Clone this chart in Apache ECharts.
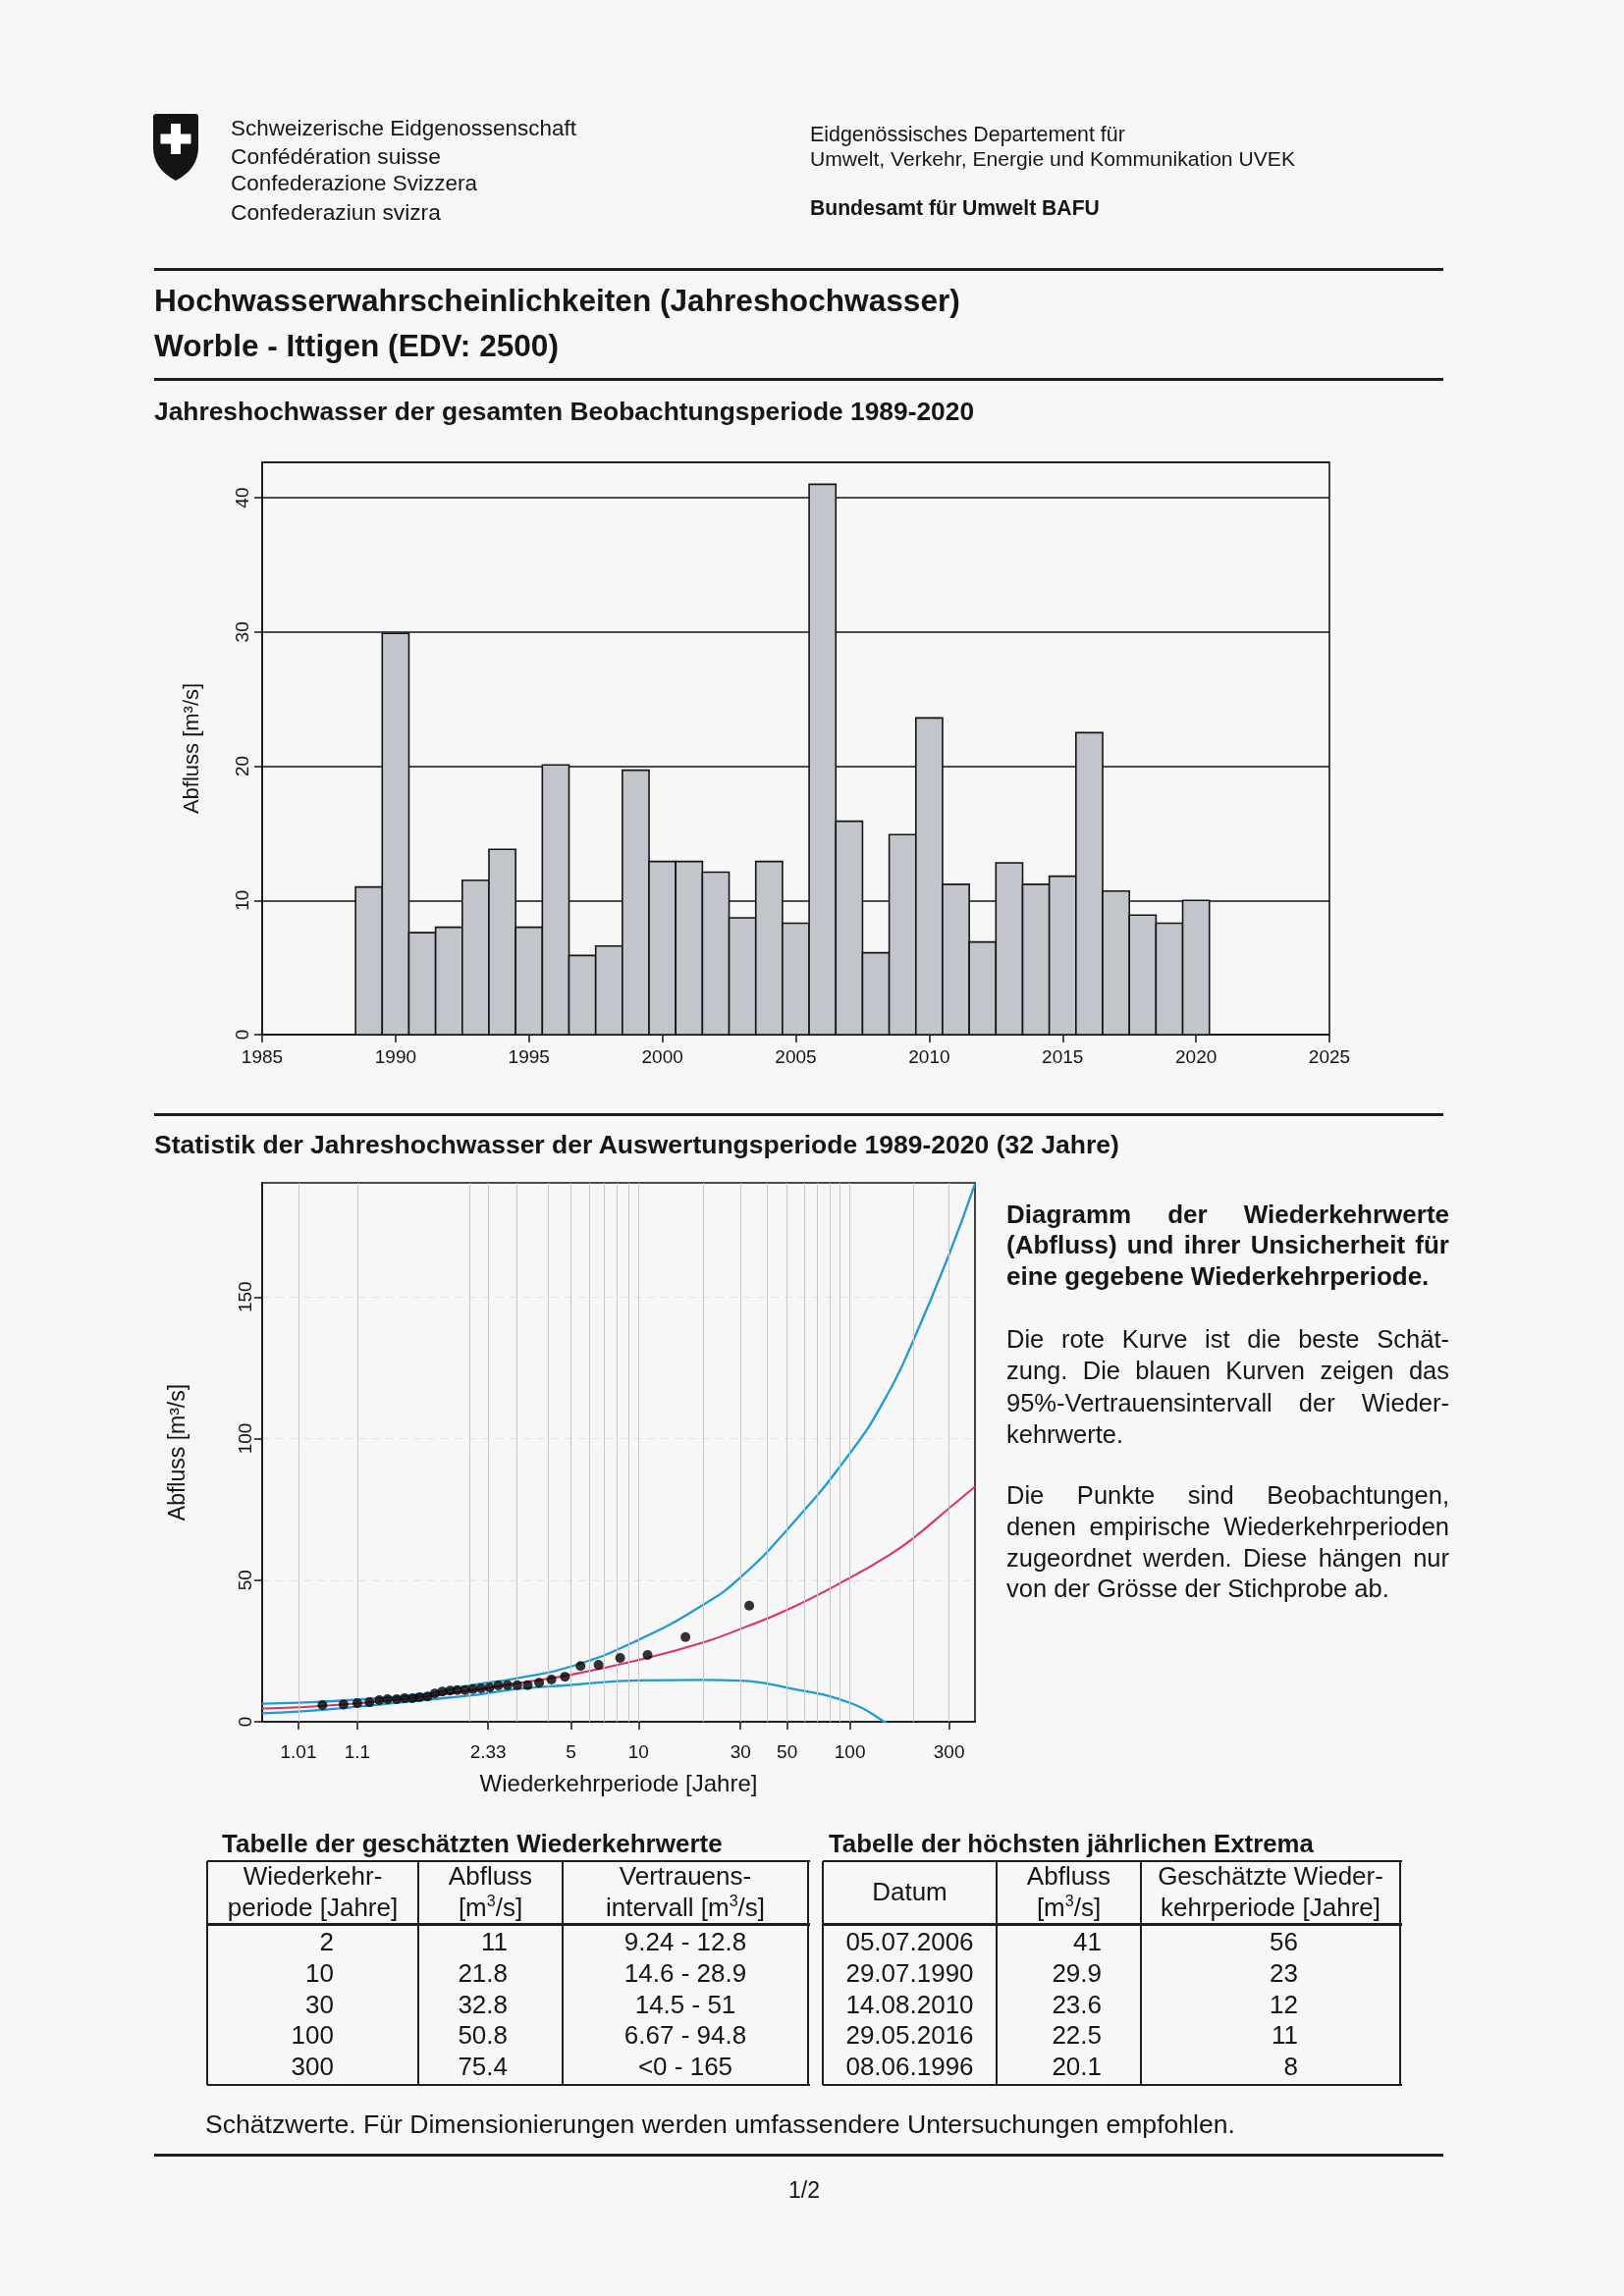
<!DOCTYPE html>
<html lang="de"><head><meta charset="utf-8"><title>Hochwasserwahrscheinlichkeiten Worble - Ittigen</title>
<script src="https://cdn.jsdelivr.net/npm/echarts@6.0.0/dist/echarts.min.js"></script>
<style>
html,body{margin:0;padding:0;background:#f7f7f7;}
#page{position:relative;width:1654px;height:2339px;overflow:hidden;font-family:'Liberation Sans',Arial,Helvetica,sans-serif;color:#161616;}
#chart{position:absolute;left:0;top:0;width:1654px;height:2339px;}
.t{position:absolute;white-space:nowrap;line-height:1.15;}
.rule{position:absolute;left:157px;width:1313px;height:3px;background:#1e1e1e;}
.pl{position:absolute;left:1025px;width:451px;height:32px;line-height:32px;white-space:normal;overflow:visible;}
.j{text-align:justify;text-align-last:justify;}
.cell{position:absolute;white-space:nowrap;font-size:26px;line-height:30px;height:30px;}
.ln{position:absolute;background:#1e1e1e;}
</style></head><body><div id="page"><div id="chart"></div>
<svg style="position:absolute;left:156px;top:116px" width="46" height="68" viewBox="0 0 46 68">
<path d="M3,0 H43 Q46,0 46,3 V34 Q46,56 23,68 Q0,56 0,34 V3 Q0,0 3,0 Z" fill="#141414"/>
<rect x="18" y="10" width="10" height="31" fill="#fff"/>
<rect x="7.5" y="20.5" width="31" height="10" fill="#fff"/>
</svg>
<div class="rule" style="top:273px"></div>
<div class="rule" style="top:385px"></div>
<div class="rule" style="top:1134px;height:2.5px"></div>
<div class="rule" style="top:2194px"></div>
</div>
<script>
// ---------- DATA ----------
const years = [1989,1990,1991,1992,1993,1994,1995,1996,1997,1998,1999,2000,2001,2002,2003,2004,2005,2006,2007,2008,2009,2010,2011,2012,2013,2014,2015,2016,2017,2018,2019,2020];
const annualPeak = [11.0,29.9,7.6,8.0,11.5,13.8,8.0,20.1,5.9,6.6,19.7,12.9,12.9,12.1,8.7,12.9,8.3,41.0,15.9,6.1,14.9,23.6,11.2,6.9,12.8,11.2,11.8,22.5,10.7,8.9,8.3,10.0];

// empirical return periods of the observed points [years] and their discharge [m3/s]
const obsReturnPeriod = [33,16.5,11,8.25,6.6,5.5,4.71,4.13,3.67,3.3,3.0,2.75,2.54,2.36,2.2,2.06,1.94,1.83,1.74,1.65,1.57,1.5,1.43,1.375,1.32,1.27,1.22,1.18,1.14,1.1,1.065,1.03];
const obsFlow = [41.0,29.9,23.6,22.5,20.1,19.7,15.9,14.9,13.8,12.9,12.9,12.9,12.8,12.1,11.8,11.5,11.2,11.2,11.0,10.7,10.0,8.9,8.7,8.3,8.3,8.0,8.0,7.6,6.9,6.6,6.1,5.9];

// fitted curve (red) and 95% confidence band (blue)
const curveReturnPeriod = [1.001,1.01,1.1,1.5,2,2.33,3,5,10,20,30,50,100,150,200,300,400];
const bestEstimate = [4.7,5.1,6.5,8.9,11.0,11.9,13.6,16.6,21.8,28.0,32.8,39.5,50.8,58.3,64.6,75.4,83.0];
const upperBound   = [6.4,6.7,7.8,9.9,12.8,13.8,15.4,19.5,28.9,41.3,51.0,67.8,94.8,115,134,165,190];
const lowerBound   = [3.0,3.6,5.3,7.8,9.24,10.1,11.6,13.0,14.6,14.8,14.5,12.0,6.67,-0.5,-6.5,-18,-28];

const rpTickValues = [1.01,1.1,2.33,5,10,30,50,100,300];
const rpTickLabels = ['1.01','1.1','2.33','5','10','30','50','100','300'];
const rpGridValues = [1.01,1.1,2,2.33,3,4,5,6,7,8,9,10,20,30,40,50,60,70,80,90,100,200,300];

// tables
const estPeriod = ['2','10','30','100','300'];
const estFlow = ['11','21.8','32.8','50.8','75.4'];
const estInterval = ['9.24 - 12.8','14.6 - 28.9','14.5 - 51','6.67 - 94.8','<0 - 165'];
const extDate = ['05.07.2006','29.07.1990','14.08.2010','29.05.2016','08.06.1996'];
const extFlow = ['41','29.9','23.6','22.5','20.1'];
const extPeriod = ['56','23','12','11','8'];

// ---------- TEXT ----------
const page = document.getElementById('page');
function addText(s){
  const d = document.createElement('div');
  d.className = 't';
  d.textContent = s.t;
  d.style.fontSize = s.fs + 'px';
  if (s.b) d.style.fontWeight = 'bold';
  page.appendChild(d);
  if (s.w) { const w = d.getBoundingClientRect().width; d.style.fontSize = (s.fs * s.w / w).toFixed(2) + 'px'; }
  const r = d.getBoundingClientRect();
  d.style.top = (s.cy - r.height/2).toFixed(1) + 'px';
  d.style.left = (s.cx !== undefined ? s.cx - r.width/2 : s.x) + 'px';
}
[
 {t:'Schweizerische Eidgenossenschaft', x:235, cy:131, w:352, fs:22},
 {t:'Confédération suisse', x:235, cy:159, w:214, fs:22},
 {t:'Confederazione Svizzera', x:235, cy:187, w:251, fs:22},
 {t:'Confederaziun svizra', x:235, cy:216, w:214, fs:22},
 {t:'Eidgenössisches Departement für', x:825, cy:137, w:321, fs:21},
 {t:'Umwelt, Verkehr, Energie und Kommunikation UVEK', x:825, cy:162, w:494, fs:21},
 {t:'Bundesamt für Umwelt BAFU', x:825, cy:212, w:295, fs:21, b:1},
 {t:'Hochwasserwahrscheinlichkeiten (Jahreshochwasser)', x:157, cy:306, w:821, fs:31, b:1},
 {t:'Worble - Ittigen (EDV: 2500)', x:157, cy:352, w:412, fs:31, b:1},
 {t:'Jahreshochwasser der gesamten Beobachtungsperiode 1989-2020', x:157, cy:419, w:835, fs:25, b:1},
 {t:'Statistik der Jahreshochwasser der Auswertungsperiode 1989-2020 (32 Jahre)', x:157, cy:1166, w:983, fs:25, b:1},
 {t:'Tabelle der geschätzten Wiederkehrwerte', x:226, cy:1879, w:510, fs:25, b:1},
 {t:'Tabelle der höchsten jährlichen Extrema', x:844, cy:1879, w:494, fs:25, b:1},
 {t:'Schätzwerte. Für Dimensionierungen werden umfassendere Untersuchungen empfohlen.', x:209, cy:2164, w:1049, fs:24},
 {t:'1/2', cx:819, cy:2231, fs:23}
].forEach(addText);

// right-hand explanatory paragraph
[
 ['Diagramm der Wiederkehrwerte',1236.5,1,1],
 ['(Abfluss) und ihrer Unsicherheit für',1268.3,1,1],
 ['eine gegebene Wiederkehrperiode.',1300.1,1,0],
 ['Die rote Kurve ist die beste Schät-',1363.8,0,1],
 ['zung. Die blauen Kurven zeigen das',1395.6,0,1],
 ['95%-Vertrauensintervall der Wieder-',1428.5,0,1],
 ['kehrwerte.',1461,0,0],
 ['Die Punkte sind Beobachtungen,',1523,0,1],
 ['denen empirische Wiederkehrperioden',1554.8,0,1],
 ['zugeordnet werden. Diese hängen nur',1586.6,0,1],
 ['von der Grösse der Stichprobe ab.',1618.4,0,0]
].forEach(([s,cy,b,j])=>{
  const d = document.createElement('div');
  d.className = 'pl' + (j ? ' j' : '');
  d.textContent = s;
  d.style.top = (cy - 16) + 'px';
  d.style.fontSize = b ? '26px' : '25.5px';
  if (b) d.style.fontWeight = 'bold';
  page.appendChild(d);
});

// ---------- TABLES ----------
function line(x,y,w,h){const d=document.createElement('div');d.className='ln';d.style.left=x+'px';d.style.top=y+'px';d.style.width=w+'px';d.style.height=h+'px';page.appendChild(d);}
function cell(html,x0,x1,cy,align,pad){
  const d=document.createElement('div');d.className='cell';d.innerHTML=html;
  d.style.top=(cy-15)+'px';
  if(align==='center'){d.style.left=x0+'px';d.style.width=(x1-x0)+'px';d.style.textAlign='center';}
  else{d.style.right=(1654-x1+pad)+'px';d.style.textAlign='right';}
  page.appendChild(d);
}
const tTop=1896, tHead=1960, tBot=2124;
const rowCy=[1978,2010,2041.5,2073,2104.5];
function table(cols, headers, columns, aligns){
  const x0=cols[0], x3=cols[cols.length-1];
  line(x0,tTop-1,x3-x0+2,2);
  line(x0,tHead-1.5,x3-x0+2,3);
  line(x0,tBot-1,x3-x0+2,2);
  cols.forEach(x=>line(x-0.75,tTop,1.8,tBot-tTop));
  headers.forEach((h,i)=>{
    if(h.length===1) cell(h[0],cols[i],cols[i+1],1927,'center');
    else {cell(h[0],cols[i],cols[i+1],1911,'center');cell(h[1],cols[i],cols[i+1],1943,'center');}
  });
  columns.forEach((arr,i)=>{
    arr.forEach((v,r)=>{
      const a=aligns[i];
      if(a==='center') cell(v,cols[i],cols[i+1],rowCy[r],'center');
      else cell(v,cols[i],cols[i+1],rowCy[r],'right',a);
    });
  });
}
const sup3 = '<sup style="font-size:16px;line-height:0">3</sup>';
table([211,426,573,823],
  [['Wiederkehr-','periode [Jahre]'],['Abfluss','[m'+sup3+'/s]'],['Vertrauens-','intervall [m'+sup3+'/s]']],
  [estPeriod,estFlow,estInterval],[86,56,'center']);
table([838,1015,1162,1426],
  [['Datum'],['Abfluss','[m'+sup3+'/s]'],['Geschätzte Wieder-','kehrperiode [Jahre]']],
  [extDate,extFlow,extPeriod],['center',40,104]);

// ---------- CHARTS ----------
const gumbel = T => -Math.log(-Math.log(1 - 1/T));
const FONT = 'Liberation Sans';
const BLUE = '#1f9ad3', RED = '#d8336d', INK = '#141414';
const rpTickU = rpTickValues.map(gumbel);
const toXY = (ts, qs) => ts.map((t,i)=>[gumbel(t), qs[i]]);

const chart = echarts.init(document.getElementById('chart'), null, {renderer:'canvas'});
const axLine = {show:true, onZero:false, lineStyle:{color:INK, width:1.6}};
const axTick = {show:true, length:8, lineStyle:{color:INK, width:1.5}};
chart.setOption({
  animation:false,
  backgroundColor:'transparent',
  grid:[
    {left:267, top:471, width:1087, height:583, show:true, borderColor:INK, borderWidth:1.6, backgroundColor:'transparent'},
    {left:267, top:1205, width:726, height:549, show:true, borderColor:INK, borderWidth:1.6, backgroundColor:'transparent'}
  ],
  xAxis:[
    {gridIndex:0, type:'value', min:1985, max:2025, interval:5,
      axisLine:axLine, axisTick:axTick,
      axisLabel:{color:INK, fontFamily:FONT, fontSize:19, margin:14, formatter:v=>String(v)},
      splitLine:{show:false}},
    {gridIndex:1, type:'value', min:gumbel(1.001), max:gumbel(400),
      axisLine:axLine,
      axisTick:{show:true, length:8, customValues:rpTickU, lineStyle:{color:INK, width:1.5}},
      axisLabel:{color:INK, fontFamily:FONT, fontSize:19, margin:22, customValues:rpTickU,
        formatter:v=>{let bi=0,bd=1e9;rpTickU.forEach((u,i)=>{const d=Math.abs(u-v);if(d<bd){bd=d;bi=i;}});return rpTickLabels[bi];}},
      splitLine:{show:false},
      name:'Wiederkehrperiode [Jahre]', nameLocation:'middle', nameGap:52,
      nameTextStyle:{color:INK, fontFamily:FONT, fontSize:24}}
  ],
  yAxis:[
    {gridIndex:0, type:'value', min:0, max:42.64, interval:10,
      axisLine:axLine, axisTick:axTick,
      axisLabel:{color:INK, fontFamily:FONT, fontSize:19, rotate:90, margin:10, showMaxLabel:false},
      splitLine:{show:true, lineStyle:{color:INK, width:1.6}},
      name:'Abfluss [m³/s]', nameLocation:'middle', nameGap:60, nameRotate:90,
      nameTextStyle:{color:INK, fontFamily:FONT, fontSize:22}},
    {gridIndex:1, type:'value', min:0, max:190.3, interval:50,
      axisLine:axLine, axisTick:axTick,
      axisLabel:{color:INK, fontFamily:FONT, fontSize:19, rotate:90, margin:7, showMaxLabel:false},
      splitLine:{show:true, showMinLine:false, showMaxLine:false, lineStyle:{color:'#e0e0e0', width:1, type:[8,6]}},
      name:'Abfluss [m³/s]', nameLocation:'middle', nameGap:74, nameRotate:90,
      nameTextStyle:{color:INK, fontFamily:FONT, fontSize:23}}
  ],
  series:[
    {type:'custom', xAxisIndex:0, yAxisIndex:0, z:3,
      data: years.map((y,i)=>[y, annualPeak[i]]),
      encode:{x:0, y:1},
      renderItem:(params, api)=>{
        const x = api.value(0), v = api.value(1);
        const p0 = api.coord([x-0.5, v]), p1 = api.coord([x+0.5, 0]);
        return {type:'rect', shape:{x:p0[0], y:p0[1], width:p1[0]-p0[0], height:p1[1]-p0[1]},
          style:{fill:'#c3c5cd', stroke:INK, lineWidth:1.6}};
      }},
    {type:'line', xAxisIndex:1, yAxisIndex:1, z:1, silent:true, symbol:'none',
      data:[[gumbel(1.001),0]], lineStyle:{opacity:0},
      markLine:{silent:true, symbol:'none', label:{show:false}, animation:false,
        lineStyle:{color:'#c8c8c8', width:1, type:'solid'},
        data: rpGridValues.map(t=>({xAxis:gumbel(t)}))}},
    {type:'line', name:'untere Grenze', xAxisIndex:1, yAxisIndex:1, z:3, showSymbol:false, symbol:'none',
      smooth:0.5, clip:true,
      data: toXY(curveReturnPeriod, lowerBound), lineStyle:{color:BLUE, width:2.3}},
    {type:'line', name:'obere Grenze', xAxisIndex:1, yAxisIndex:1, z:3, showSymbol:false, symbol:'none',
      smooth:0.5, clip:true,
      data: toXY(curveReturnPeriod, upperBound), lineStyle:{color:BLUE, width:2.3}},
    {type:'line', name:'Schätzung', xAxisIndex:1, yAxisIndex:1, z:4, showSymbol:false, symbol:'none',
      smooth:0.5, clip:true,
      data: toXY(curveReturnPeriod, bestEstimate), lineStyle:{color:RED, width:2.1}},
    {type:'scatter', name:'Beobachtungen', xAxisIndex:1, yAxisIndex:1, z:5,
      data: toXY(obsReturnPeriod, obsFlow), symbolSize:10, itemStyle:{color:'#000'}}
  ]
});
</script></body></html>
